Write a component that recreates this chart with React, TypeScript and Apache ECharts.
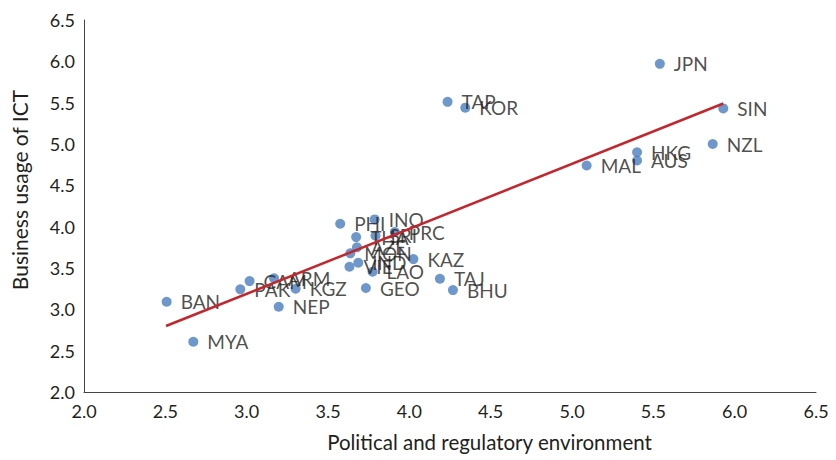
import React, { useEffect, useRef } from "react";
import * as echarts from "echarts";

const economies = ["JPN","SIN","NZL","HKG","AUS","MAL","TAP","KOR","PHI","INO","THA","SRI","PRC","AZE","MON","IND","VIE","LAO","KAZ","TAJ","BHU","GEO","CAM","ARM","PAK","KGZ","NEP","BAN","MYA"];
const politicalEnv = [5.54,5.93,5.865,5.40,5.40,5.09,4.235,4.344,3.575,3.787,3.673,3.792,3.911,3.678,3.637,3.686,3.632,3.774,4.025,4.188,4.268,3.733,3.018,3.168,2.961,3.301,3.197,2.508,2.672];
const businessICT = [5.97,5.43,5.00,4.90,4.80,4.74,5.51,5.44,4.035,4.088,3.874,3.890,3.935,3.750,3.677,3.563,3.515,3.455,3.608,3.370,3.233,3.258,3.342,3.375,3.242,3.249,3.031,3.092,2.608];
const trendX = [2.504, 5.93];
const trendY = [2.798, 5.49];

export default function App() {
  const ref = useRef<HTMLDivElement>(null);
  useEffect(() => {
    if (!ref.current) return;
    const chart = echarts.init(ref.current, null, { renderer: "svg" });
    const font = "Lato, 'Open Sans', sans-serif";
    chart.setOption({
      animation: false,
      textStyle: { fontFamily: font },
      grid: { left: 84, right: 20, top: 20, bottom: 68, containLabel: false, outerBoundsMode: "none" },
      xAxis: {
        type: "value", min: 2, max: 6.5, interval: 0.5,
        name: "Political and regulatory environment",
        nameLocation: "middle", nameGap: 39,
        nameTextStyle: { fontSize: 20.5, color: "#231f20", fontFamily: font, padding: [0, 0, 0, 79] },
        axisLine: { show: true, onZero: false, lineStyle: { color: "#444", width: 1 } },
        axisTick: { show: false },
        splitLine: { show: false },
        axisLabel: { formatter: (v: number) => v.toFixed(1), fontSize: 18, color: "#231f20", margin: 10, fontFamily: font },
      },
      yAxis: {
        type: "value", min: 2, max: 6.5, interval: 0.5,
        name: "Business usage of ICT",
        nameLocation: "middle", nameGap: 54,
        nameTextStyle: { fontSize: 21, color: "#231f20", fontFamily: font, padding: [0, 0, 0, 32] },
        axisLine: { show: true, onZero: false, lineStyle: { color: "#444", width: 1 } },
        axisTick: { show: false },
        splitLine: { show: false },
        axisLabel: { formatter: (v: number) => v.toFixed(1), fontSize: 18, color: "#231f20", margin: 9, fontFamily: font },
      },
      series: [
        {
          type: "line",
          data: trendX.map((x, i) => [x, trendY[i]]),
          symbol: "none",
          lineStyle: { color: "#c1272d", width: 2.5 },
          z: 3,
        },
        {
          type: "scatter",
          data: economies.map((name, i) => ({ name, value: [politicalEnv[i], businessICT[i]] })),
          symbolSize: 10,
          itemStyle: { color: "#4a7ebf" },
          label: {
            show: true, position: "right", distance: 9,
            formatter: (p: any) => p.name,
            fontSize: 19, color: "#231f20", fontFamily: font,
          },
          z: 2,
        },
      ],
    });
    return () => chart.dispose();
  }, []);
  return <div ref={ref} style={{ position: "absolute", left: 0, top: 0, width: 836, height: 460 }} />;
}
